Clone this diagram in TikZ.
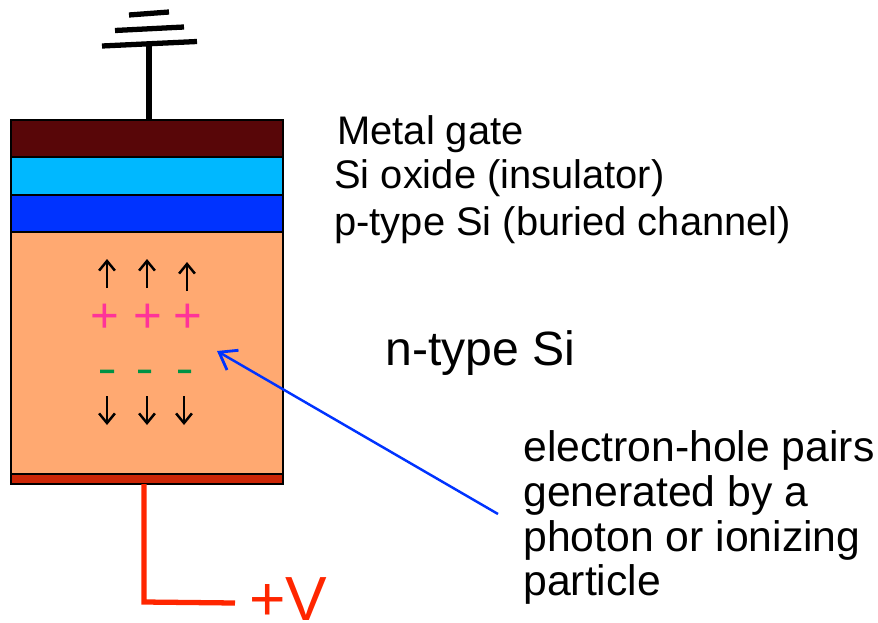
\documentclass[tikz,border=0pt]{standalone}
\usepackage{fontspec}
\setmainfont{Liberation Sans}
\usetikzlibrary{arrows.meta}
\definecolor{gatecol}{RGB}{88,6,8}
\definecolor{oxidecol}{RGB}{0,184,255}
\definecolor{channelcol}{RGB}{0,51,255}
\definecolor{bulkcol}{RGB}{255,169,113}
\definecolor{contactcol}{RGB}{204,38,6}
\definecolor{wirecol}{RGB}{255,38,0}
\definecolor{pluscol}{RGB}{255,51,153}
\definecolor{minuscol}{RGB}{0,146,69}
\tikzset{
  layer/.style={draw=black,line width=1.2pt},
  gndbar/.style={line width=3pt},
  carrier/.style={-{Straight Barb[length=5.5pt,width=9pt,line width=1.4pt]},line width=0.9pt},
  lbl/.style={anchor=base west,inner sep=0pt,font=\fontsize{22.7}{27}\selectfont},
  note/.style={anchor=base west,inner sep=0pt,font=\fontsize{24.3}{29}\selectfont},
  chg/.style={inner sep=0pt,font=\fontsize{28}{28}\selectfont}
}
\begin{document}
\begin{tikzpicture}[x=0.02cm,y=-0.02cm]
 \useasboundingbox (0,0) rectangle (878,622);
 \coordinate (TL) at (11,120);
 \coordinate (St) at (149,45);
 \coordinate (Sb) at (149,120);
 \coordinate (Wt) at (144,484);
 \coordinate (Wc) at (144,602);
 \coordinate (We) at (235,603);

 % Stack
 \draw[layer,fill=gatecol] (TL) rectangle (283,157);
 \draw[layer,fill=oxidecol] (11,157) rectangle (283,195);
 \draw[layer,fill=channelcol] (11,195) rectangle (283,232);
 \draw[layer,fill=bulkcol] (11,232) rectangle (283,474);
 \draw[layer,fill=contactcol] (11,474) rectangle (283,484);

 % Ground
 \draw[line width=3pt] (St) -- (Sb);
 \draw[gndbar] (102,46) -- (197,41.5);
 \draw[gndbar] (115,30.5) -- (184,27);
 \draw[gndbar] (129,15) -- (169,12);

 % Bias wire
 \draw[line width=3pt,draw=wirecol] (Wt) -- (Wc) -- (We);
 \node[anchor=base west,inner sep=0pt,text=wirecol,font=\fontsize{35.5}{36}\selectfont] (bias) at (249,620.5) {+V};

 % Drift up
 \draw[carrier] (107,288) -- (107,259);
 \draw[carrier] (147,288) -- (147,259);
 \draw[carrier] (187,291) -- (187,262);

 % Charges
 \node[chg,text=pluscol] (p1) at (105,318) {+};
 \node[chg,text=pluscol] (p2) at (148,318) {+};
 \node[chg,text=pluscol] (p3) at (188,318) {+};
 \fill[minuscol] (100,369.5) rectangle (114,373) (138,369.5) rectangle (151,373) (178,369.5) rectangle (191,373);

 % Drift down
 \draw[carrier] (107,396) -- (107,425);
 \draw[carrier] (147,396) -- (147,425);
 \draw[carrier] (184,396) -- (184,425);

 % Labels
 \node[lbl] (gate) at (337,144.5) {Metal gate};
 \node[lbl] (oxide) at (334,188.5) {Si oxide (insulator)};
 \node[lbl] (channel) at (334,235.5) {p-type Si (buried channel)};
 \node[lbl,font=\fontsize{27.4}{33}\selectfont] (bulk) at (385,365) {n-type Si};
 \node[note] (pair1) at (523,461) {electron-hole pairs};
 \node[note] (pair2) at (523,506) {generated by a};
 \node[note] (pair3) at (523,551.5) {photon or ionizing};
 \node[note] (pair4) at (523,595.5) {particle};

 % Photon track
 \coordinate (Ts) at (498,514);
 \coordinate (Te) at (217,351);
 \draw[-{Straight Barb[length=9pt,width=13pt,line width=1.6pt]},line width=1.4pt,draw=channelcol] (Ts) -- (Te);
\end{tikzpicture}
\end{document}
